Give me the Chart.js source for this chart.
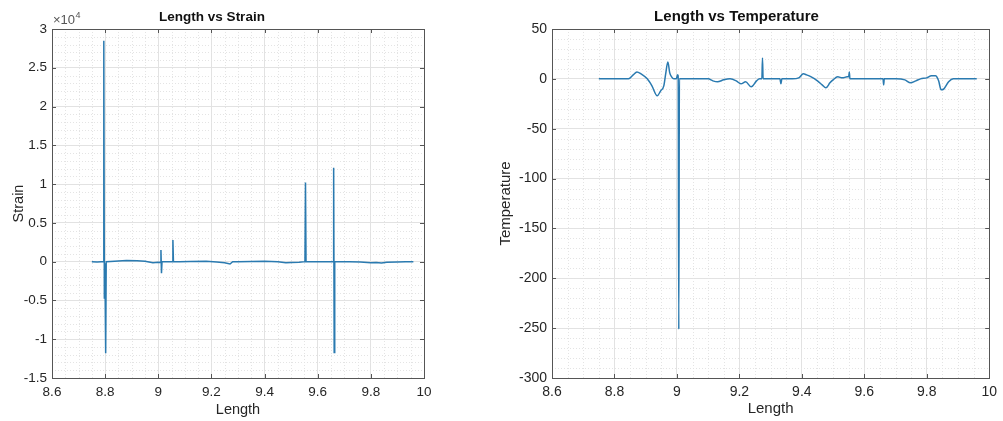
<!DOCTYPE html>
<html>
<head>
<meta charset="utf-8">
<script src="https://cdn.jsdelivr.net/npm/chart.js@4.4.1/dist/chart.umd.min.js"></script>
<style>
  html, body { margin: 0; padding: 0; background: #ffffff; }
  #wrap { position: relative; width: 1003px; height: 421px; overflow: hidden; }
  canvas { position: absolute; top: 0; }
</style>
</head>
<body>
<div id="wrap">
  <canvas id="c1" width="480" height="421" style="left:0px"></canvas>
  <canvas id="c2" width="523" height="421" style="left:480px"></canvas>
</div>
<script>
// ---------- data ----------
const xTickLabels = ['8.6', '8.8', '9', '9.2', '9.4', '9.6', '9.8', '10'];
const strainTickLabels = ['-1.5', '-1', '-0.5', '0', '0.5', '1', '1.5', '2', '2.5', '3'];
const tempTickLabels = ['-300', '-250', '-200', '-150', '-100', '-50', '0', '50'];

const strainLength = [8.75, 8.77, 8.785, 8.793, 8.795, 8.797, 8.799, 8.802, 8.804, 8.82, 8.85, 8.88, 8.92, 8.95, 8.98, 9.0, 9.008, 9.010, 9.012, 9.014, 9.03, 9.053, 9.055, 9.057, 9.08, 9.12, 9.18, 9.22, 9.25, 9.27, 9.28, 9.3, 9.35, 9.4, 9.45, 9.48, 9.5, 9.53, 9.552, 9.554, 9.556, 9.58, 9.62, 9.658, 9.66, 9.662, 9.664, 9.68, 9.72, 9.76, 9.8, 9.82, 9.84, 9.86, 9.9, 9.93, 9.96];
const strainValues = [0, -30, 0, 0, 28500, -4700, -200, -11800, 0, 30, 100, 150, 120, 60, -150, -80, -100, 1500, -1500, 0, 0, 0, 2800, 0, 0, 30, 60, -30, -150, -300, 0, 0, 30, 60, 0, -150, -100, -80, 0, 10200, 0, 0, 0, 0, 12100, -11700, 0, 0, 0, -40, -150, -100, -180, -80, -40, 0, 0];

const tempLength = [8.75, 8.80, 8.845, 8.86, 8.872, 8.885, 8.905, 8.92, 8.937, 8.948, 8.958, 8.964, 8.971, 8.977, 8.983, 8.99, 8.998, 9.002, 9.004, 9.006, 9.008, 9.05, 9.10, 9.115, 9.13, 9.15, 9.17, 9.19, 9.205, 9.22, 9.238, 9.255, 9.265, 9.272, 9.274, 9.276, 9.30, 9.33, 9.333, 9.336, 9.37, 9.39, 9.405, 9.415, 9.43, 9.45, 9.465, 9.477, 9.49, 9.50, 9.515, 9.53, 9.545, 9.550, 9.552, 9.554, 9.60, 9.66, 9.662, 9.664, 9.70, 9.73, 9.748, 9.765, 9.78, 9.80, 9.815, 9.828, 9.838, 9.846, 9.855, 9.87, 9.885, 9.92, 9.96];
const tempValues = [0, 0, 0, 4, 7, 5, 0, -7, -17, -12, -7, 5, 17, 6, 2, 0, 0, 4, 3, -251, 0, 0, 0, -2, -3, -1, 0, -2, -5, -3, -8, -2, 0, 0, 21, 0, 0, 0, -5, 0, 0, 1, 5, 4, 2, -2, -6, -9, -4, -1, 2, 1, 2, 2, 7, 0, 0, 0, -6, 0, 0, -1, -4, -2, 0, 1, 3, 3, -2, -11, -10, -3, 0, 0, 0];

// ---------- styling helpers ----------
const LINE = '#2a7ab0';
const TXT = '#262626';
const AXIS = '#555555';
const FONT = '"Liberation Sans", Arial, Helvetica, sans-serif';

function fmt(v) { return String(parseFloat(v.toFixed(3))); }

function frame(minorX, minorY, opts) {
  return {
    id: 'frame',
    beforeDatasetsDraw(chart) {
      const {ctx, chartArea: a, scales: {x, y}} = chart;
      ctx.save();
      ctx.strokeStyle = '#e4e4e4';
      ctx.lineWidth = 1;
      ctx.setLineDash([1, 2]);
      const mX = x.options.ticks.stepSize, mY = y.options.ticks.stepSize;
      for (let v = x.min; v <= x.max + 1e-9; v += minorX) {
        if (Math.abs(Math.round((v - x.min) / mX) * mX - (v - x.min)) < 1e-6) continue;
        const px = Math.round(x.getPixelForValue(v)) + 0.5;
        ctx.beginPath(); ctx.moveTo(px, a.top); ctx.lineTo(px, a.bottom); ctx.stroke();
      }
      for (let v = y.min; v <= y.max + 1e-9; v += minorY) {
        if (Math.abs(Math.round((v - y.min) / mY) * mY - (v - y.min)) < 1e-6 * mY) continue;
        const py = Math.round(y.getPixelForValue(v)) + 0.5;
        ctx.beginPath(); ctx.moveTo(a.left, py); ctx.lineTo(a.right, py); ctx.stroke();
      }
      ctx.restore();
    },
    afterDatasetsDraw(chart) {
      const {ctx, chartArea: a, scales: {x, y}} = chart;
      ctx.save();
      ctx.strokeStyle = AXIS;
      ctx.lineWidth = 1;
      ctx.strokeRect(Math.round(a.left) + 0.5, Math.round(a.top) + 0.5, Math.round(a.right - a.left), Math.round(a.bottom - a.top));
      const tl = 4;
      x.ticks.forEach(t => {
        const px = Math.round(x.getPixelForValue(t.value)) + 0.5;
        ctx.beginPath();
        ctx.moveTo(px, a.bottom); ctx.lineTo(px, a.bottom - tl);
        ctx.moveTo(px, a.top); ctx.lineTo(px, a.top + tl);
        ctx.stroke();
      });
      y.ticks.forEach(t => {
        const py = Math.round(y.getPixelForValue(t.value)) + 0.5;
        ctx.beginPath();
        ctx.moveTo(a.left, py); ctx.lineTo(a.left + tl, py);
        ctx.moveTo(a.right, py); ctx.lineTo(a.right - tl, py);
        ctx.stroke();
      });
      if (opts && opts.exponent) {
        ctx.fillStyle = '#555555';
        ctx.font = '13px ' + FONT;
        ctx.textBaseline = 'alphabetic';
        ctx.textAlign = 'left';
        const bx = a.left + 1, by = a.top - 5;
        ctx.fillText('\u00d710', bx, by);
        const w = ctx.measureText('\u00d710').width;
        ctx.font = '9px ' + FONT;
        ctx.fillText(opts.exponent, bx + w + 0.5, by - 6);
      }
      ctx.restore();
    }
  };
}

function makeChart(id, cfg) {
  const data = cfg.xs.map((v, i) => ({x: v, y: cfg.ys[i]}));
  return new Chart(document.getElementById(id), {
    type: 'line',
    data: {
      datasets: [{
        data: data,
        borderColor: LINE,
        borderWidth: 1.5,
        pointRadius: 0,
        fill: false,
        tension: 0,
        cubicInterpolationMode: cfg.mono ? 'monotone' : 'default'
      }]
    },
    options: {
      responsive: false,
      animation: false,
      events: [],
      layout: { padding: { left: 0, right: cfg.padRight, top: 0, bottom: 0 } },
      plugins: {
        legend: { display: false },
        tooltip: { enabled: false },
        title: {
          display: true,
          text: cfg.title,
          color: '#111111',
          font: { family: FONT, size: cfg.titleSize, weight: 'bold' },
          padding: { top: cfg.titlePadTop, bottom: cfg.titlePadBottom }
        }
      },
      scales: {
        x: {
          type: 'linear',
          min: 8.6, max: 10,
          afterFit(s) { s.height = 43; },
          afterBuildTicks(s) { s.ticks = xTickLabels.map(t => ({value: parseFloat(t)})); },
          ticks: {
            stepSize: 0.2,
            color: TXT,
            padding: 6,
            maxRotation: 0,
            autoSkip: false,
            font: { family: FONT, size: cfg.tickSize },
            callback: (v) => fmt(v)
          },
          grid: { color: '#e2e2e2', drawTicks: false, lineWidth: 1 },
          border: { display: true, color: AXIS },
          title: {
            display: true, text: 'Length', color: TXT,
            font: { family: FONT, size: cfg.axisTitleSize },
            padding: { top: 0, bottom: cfg.xTitlePad }
          }
        },
        y: {
          type: 'linear',
          min: cfg.yMin, max: cfg.yMax,
          afterFit(s) { s.width = cfg.yWidth; },
          afterBuildTicks(s) { s.ticks = cfg.yTicks.map(t => ({value: parseFloat(t) * cfg.yScale})); },
          ticks: {
            stepSize: cfg.yStep,
            color: TXT,
            padding: 5,
            autoSkip: false,
            font: { family: FONT, size: cfg.tickSize },
            callback: (v) => fmt(v / cfg.yScale)
          },
          grid: { color: '#e2e2e2', drawTicks: false, lineWidth: 1 },
          border: { display: true, color: AXIS },
          title: {
            display: true, text: cfg.yTitle, color: TXT,
            font: { family: FONT, size: cfg.axisTitleSize },
            padding: { top: cfg.yTitlePad, bottom: 0 }
          }
        }
      }
    },
    plugins: [frame(cfg.minorX, cfg.minorY, {exponent: cfg.exponent})]
  });
}

makeChart('c1', {
  xs: strainLength, ys: strainValues,
  title: 'Length vs Strain', titleSize: 13.5, titlePadTop: 9, titlePadBottom: 3.8,
  yTitle: 'Strain', yMin: -15000, yMax: 30000, yStep: 5000, yScale: 10000,
  yTicks: strainTickLabels, yWidth: 52, padRight: 56,
  tickSize: 13.5, axisTitleSize: 14.5, xTitlePad: 2, yTitlePad: 10,
  minorX: 0.05, minorY: 1000, exponent: '4', mono: false
});

makeChart('c2', {
  xs: tempLength, ys: tempValues,
  title: 'Length vs Temperature', titleSize: 15, titlePadTop: 8, titlePadBottom: 3,
  yTitle: 'Temperature', yMin: -300, yMax: 50, yStep: 50, yScale: 1,
  yTicks: tempTickLabels, yWidth: 72, padRight: 10,
  tickSize: 14, axisTitleSize: 15, xTitlePad: 3, yTitlePad: 17,
  minorX: 0.05, minorY: 10, exponent: null, mono: true
});
</script>
</body>
</html>
